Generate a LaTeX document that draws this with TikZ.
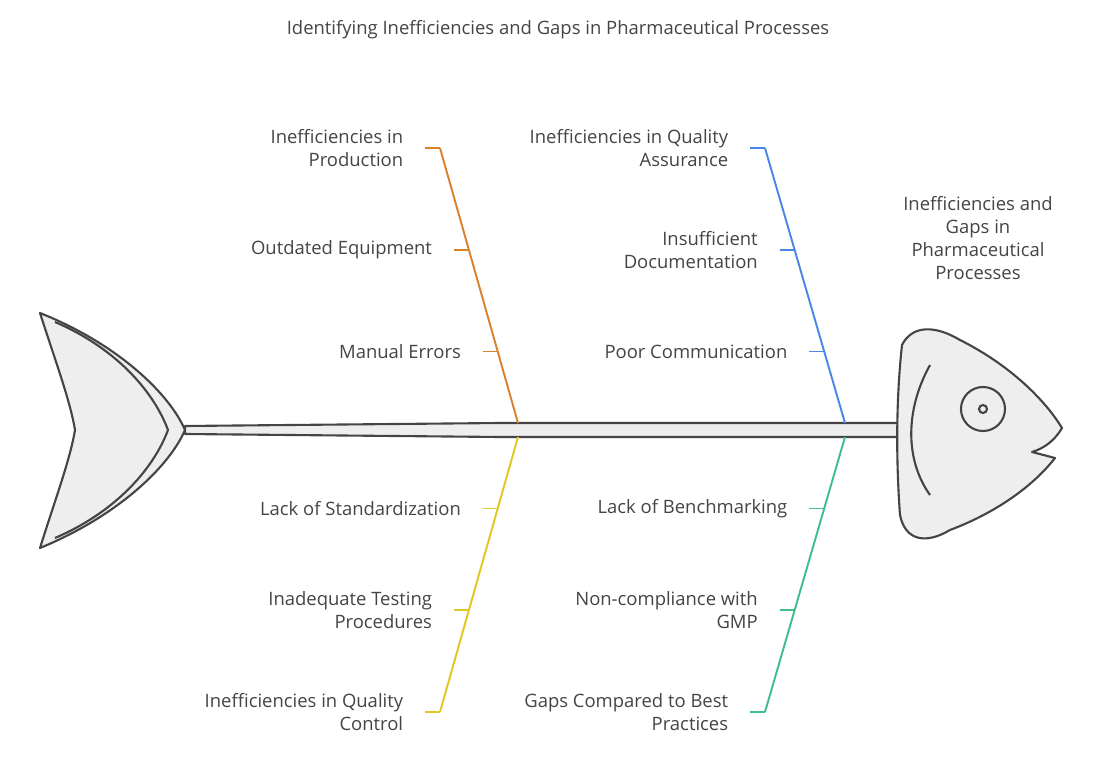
\documentclass[tikz,border=0pt]{standalone}
\usepackage{fontspec}
\setmainfont{Open Sans}
\usetikzlibrary{positioning}
\definecolor{ink}{HTML}{444444}
\definecolor{bodygray}{HTML}{EEEEEE}
\definecolor{prodc}{HTML}{D9822B}
\definecolor{qac}{HTML}{4A86E8}
\definecolor{qcc}{HTML}{E0C821}
\definecolor{gapc}{HTML}{3DBE8B}
\tikzset{
    fishline/.style={draw=ink, line width=1.2pt, fill=bodygray, line join=round},
    lbl/.style={font=\fontsize{10.5}{13}\selectfont, text=ink, align=right, anchor=east, inner sep=2pt},
    bone/.style={line width=1.1pt},
}
\begin{document}
\begin{tikzpicture}[x=0.02cm, y=-0.02cm]
    \useasboundingbox (0,0) rectangle (1100,757);

    % Title
    \node[font=\fontsize{10.5}{13}\selectfont, text=ink] (title) at (558,30)
        {Identifying Inefficiencies and Gaps in Pharmaceutical Processes};

    % Tail
    \draw[fishline] (40,313) .. controls (120,345) and (170,395) .. (185,430)
        .. controls (170,465) and (120,515) .. (40,548)
        .. controls (55,500) and (70,460) .. (75,430)
        .. controls (70,400) and (55,360) .. cycle;
    \draw[ink, line width=1.2pt] (55,322) .. controls (120,350) and (155,395) .. (168,430)
        .. controls (155,465) and (120,510) .. (55,538);

    % Spine
    \draw[fishline] (185,426) -- (500,423) -- (900,423) -- (900,437) -- (500,437) -- (185,434) -- cycle;

    % Head
    \draw[fishline] (902,345) .. controls (912,325) and (935,325) .. (960,340)
        .. controls (1010,365) and (1045,400) .. (1062,428)
        .. controls (1055,440) and (1045,448) .. (1032,452)
        -- (1055,458)
        .. controls (1030,490) and (990,515) .. (950,530)
        .. controls (925,545) and (905,540) .. (900,515)
        .. controls (896,460) and (896,400) .. cycle;
    \draw[ink, line width=1.2pt] (930,365) .. controls (905,410) and (905,460) .. (930,495);
    \node[circle, draw=ink, line width=1.2pt, minimum size=44*0.02cm, inner sep=0pt] (eye) at (983,409) {};
    \node[circle, draw=ink, line width=1.2pt, minimum size=8*0.02cm, inner sep=0pt] (pupil) at (eye) {};

    % Effect
    \node[font=\fontsize{10.5}{13}\selectfont, text=ink, align=center] (effect) at (978,238)
        {Inefficiencies and\\Gaps in\\Pharmaceutical\\Processes};

    % Bones with causes: color / start x,y / end x,y / three labels (outer to inner)
    \foreach \c/\xa/\ya/\xb/\yb/\ta/\tb/\tc in {
        prodc/518/423/440/148/{Inefficiencies in\\Production}/{Outdated Equipment}/{Manual Errors},
        qac/845/423/765/148/{Inefficiencies in Quality\\Assurance}/{Insufficient\\Documentation}/{Poor Communication},
        qcc/518/437/440/712/{Inefficiencies in Quality\\Control}/{Inadequate Testing\\Procedures}/{Lack of Standardization},
        gapc/845/437/765/712/{Gaps Compared to Best\\Practices}/{Non-compliance with\\GMP}/{Lack of Benchmarking}} {
        \coordinate (\c-A) at (\xa,\ya);
        \coordinate (\c-B) at (\xb,\yb);
        \draw[\c, bone] (\c-A) -- (\c-B);
        \foreach \p/\t [count=\k] in {1/\ta, 0.63/\tb, 0.26/\tc} {
            \path (\c-A) -- (\c-B) coordinate[pos=\p] (\c-t\k);
            \draw[\c, bone] (\c-t\k) -- ++(-15,0) coordinate (\c-e\k);
            \node[lbl] (\c-l\k) at ([xshift=-0.36cm]\c-e\k) {\t};
        }
    }
\end{tikzpicture}
\end{document}
